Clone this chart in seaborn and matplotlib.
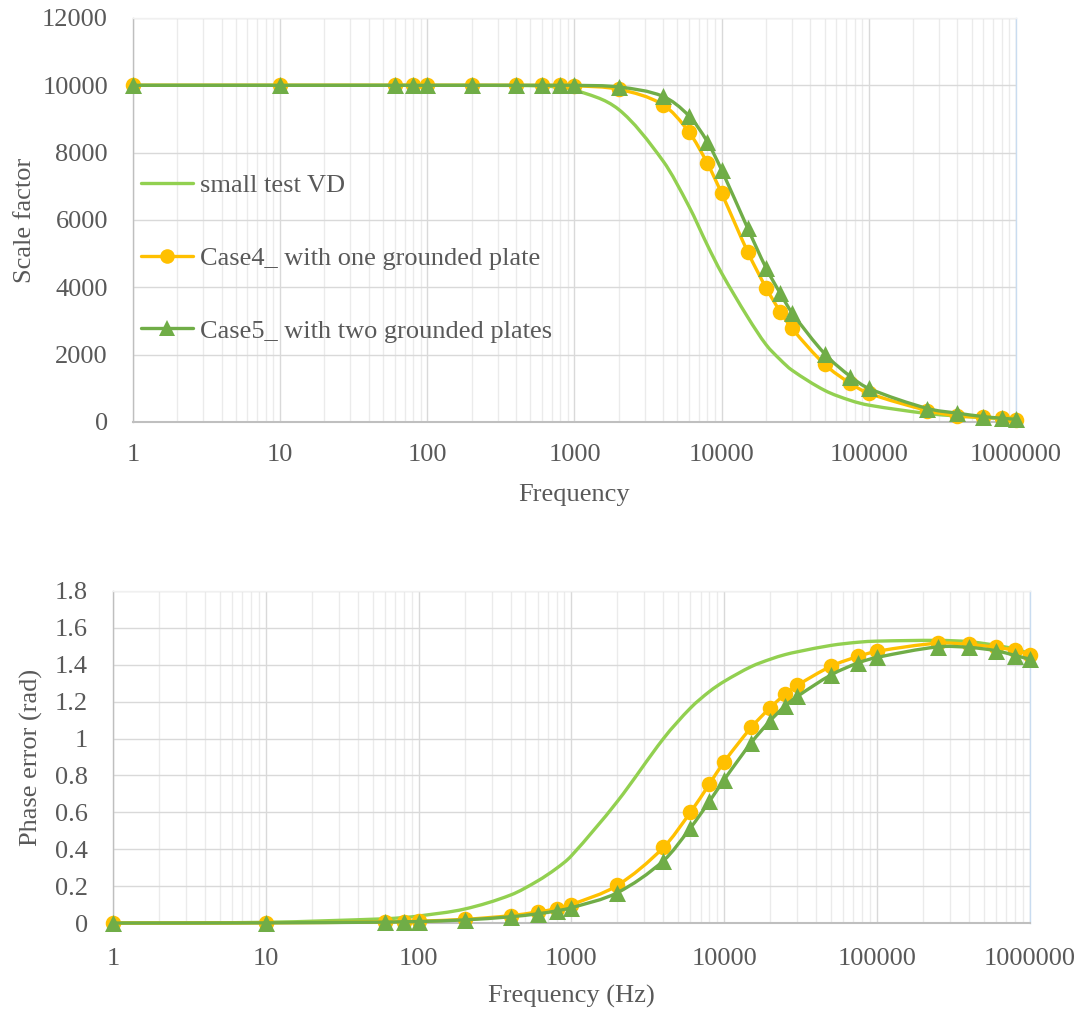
import numpy as np
import matplotlib
matplotlib.use("Agg")
import matplotlib.pyplot as plt
from matplotlib.path import Path
from matplotlib.patches import PathPatch
from matplotlib.lines import Line2D
from matplotlib.ticker import LogLocator, FixedLocator, FuncFormatter, NullFormatter
import seaborn as sns
import pandas as pd

# ---- data -----------------------------------------------------------------
freq = [1, 10, 60, 80, 100, 200, 400, 600, 800, 1000, 2000, 4000, 6000, 8000,
        10000, 15000, 20000, 25000, 30000, 50000, 75000, 100000, 250000,
        400000, 600000, 800000, 1000000]

series_names = ["small test VD", "Case4_ with one grounded plate",
                "Case5_ with two grounded plates"]

scale_small = [10000, 10000, 10000, 10000, 10000, 10000, 9995, 9980, 9940, 9870,
               9280, 7750, 6400, 5250, 4420, 3120, 2300, 1850, 1540, 940, 640,
               500, 250, 180, 130, 100, 70]
scale_case4 = [10000, 10000, 10000, 10000, 10000, 10000, 10000, 10000, 10000, 9990,
               9880, 9420, 8610, 7680, 6790, 5060, 3990, 3275, 2780, 1715, 1145,
               850, 340, 180, 140, 110, 60]
scale_case5 = [10000, 10000, 10000, 10000, 10000, 10000, 10000, 10000, 10000, 10000,
               9950, 9670, 9090, 8320, 7480, 5760, 4580, 3820, 3250, 2030, 1350,
               995, 400, 260, 160, 110, 80]

phase_small = [0.0, 0.004, 0.023, 0.030, 0.038, 0.076, 0.152, 0.228, 0.297, 0.365,
               0.66, 1.0, 1.165, 1.255, 1.31, 1.39, 1.43, 1.455, 1.47, 1.505,
               1.522, 1.528, 1.532, 1.525, 1.505, 1.485, 1.46]
phase_case4 = [0.0, 0.001, 0.006, 0.008, 0.010, 0.020, 0.040, 0.060, 0.078, 0.100,
               0.205, 0.41, 0.60, 0.754, 0.875, 1.06, 1.168, 1.24, 1.288, 1.392,
               1.445, 1.473, 1.517, 1.51, 1.494, 1.478, 1.452]
phase_case5 = [0.0, 0.001, 0.005, 0.007, 0.008, 0.017, 0.034, 0.050, 0.066, 0.083,
               0.165, 0.338, 0.515, 0.66, 0.778, 0.977, 1.097, 1.177, 1.228, 1.345,
               1.41, 1.44, 1.497, 1.494, 1.476, 1.45, 1.43]

scale_ticks = [0, 2000, 4000, 6000, 8000, 10000, 12000]
phase_ticks = [0, 0.2, 0.4, 0.6, 0.8, 1.0, 1.2, 1.4, 1.6, 1.8]
freq_ticks = [1, 10, 100, 1000, 10000, 100000, 1000000]

# ---- style ----------------------------------------------------------------
sns.set_style("white")
plt.rcParams["font.family"] = ["Liberation Serif", "DejaVu Serif"]
TEXT = "#595959"
C_SMALL, C_CASE4, C_CASE5 = "#92d050", "#ffc000", "#70ad47"
FS = 19
LW = 2.4


def smooth_path(xs, ys):
    """Smoothed cubic Bezier path through the points on a log-x axis."""
    x = np.log10(np.asarray(xs, dtype=float))
    y = np.asarray(ys, dtype=float)
    n = len(x)
    m = np.empty(n)
    m[0] = (y[1] - y[0]) / (x[1] - x[0])
    m[-1] = (y[-1] - y[-2]) / (x[-1] - x[-2])
    for i in range(1, n - 1):
        m[i] = (y[i + 1] - y[i - 1]) / (x[i + 1] - x[i - 1])
    verts = [(x[0], y[0])]
    codes = [Path.MOVETO]
    for i in range(n - 1):
        h = x[i + 1] - x[i]
        verts += [(x[i] + h / 3, y[i] + m[i] * h / 3),
                  (x[i + 1] - h / 3, y[i + 1] - m[i + 1] * h / 3),
                  (x[i + 1], y[i + 1])]
        codes += [Path.CURVE4] * 3
    verts = np.array(verts)
    verts[:, 0] = 10 ** verts[:, 0]
    return Path(verts, codes)


def draw_curve(ax, xs, ys, color, z):
    ax.add_patch(PathPatch(smooth_path(xs, ys), facecolor="none", edgecolor=color,
                           lw=LW, zorder=z, capstyle="round", joinstyle="round",
                           clip_on=False))


def style_axes(ax, yticks, ymax, yfmt, xpad):
    ax.set_xscale("log")
    ax.set_xlim(1, 1e6)
    ax.set_ylim(0, ymax)
    ax.xaxis.set_major_locator(FixedLocator(freq_ticks))
    ax.xaxis.set_minor_locator(LogLocator(base=10, subs=np.arange(2, 10)))
    ax.xaxis.set_major_formatter(FuncFormatter(lambda v, p: f"{int(round(v))}"))
    ax.xaxis.set_minor_formatter(NullFormatter())
    ax.yaxis.set_major_locator(FixedLocator(yticks))
    ax.yaxis.set_major_formatter(FuncFormatter(yfmt))
    ax.grid(which="major", color="#d9d9d9", lw=1.0, zorder=0)
    ax.grid(which="minor", axis="x", color="#ebebeb", lw=1.0, zorder=0)
    ax.set_axisbelow(True)
    ax.tick_params(axis="x", which="major", direction="in", length=5, width=1.0,
                   color="#bfbfbf", labelsize=FS, labelcolor=TEXT, pad=xpad)
    ax.tick_params(axis="x", which="minor", length=0)
    ax.tick_params(axis="y", which="both", length=0, labelsize=FS,
                   labelcolor=TEXT, pad=18)
    for side, col, lw in [("left", "#bfbfbf", 1.0), ("bottom", "#bfbfbf", 1.5),
                          ("top", "#f0f0f0", 1.0), ("right", "#c9dcf0", 1.0)]:
        ax.spines[side].set_visible(True)
        ax.spines[side].set_color(col)
        ax.spines[side].set_linewidth(lw)


def plot_panel(ax, small, case4, case5):
    draw_curve(ax, freq, small, C_SMALL, 2)
    draw_curve(ax, freq, case4, C_CASE4, 3)
    d4 = pd.DataFrame({"f": freq, "v": case4})
    sns.scatterplot(data=d4, x="f", y="v", ax=ax, marker="o", s=125, color=C_CASE4,
                    edgecolor=C_CASE4, linewidth=0, zorder=4, legend=False,
                    clip_on=False)
    draw_curve(ax, freq, case5, C_CASE5, 5)
    d5 = pd.DataFrame({"f": freq, "v": case5})
    sns.scatterplot(data=d5, x="f", y="v", ax=ax, marker="^", s=150, color=C_CASE5,
                    edgecolor=C_CASE5, linewidth=0, zorder=6, legend=False,
                    clip_on=False)
    ax.set_xlabel("")
    ax.set_ylabel("")


fig = plt.figure(figsize=(10.81, 10.10), dpi=100)
ax1 = fig.add_axes([0.1230, 0.5822, 0.8169, 0.4000])
ax2 = fig.add_axes([0.1045, 0.0861, 0.8483, 0.3288])

# ---- scale factor ---------------------------------------------------------
plot_panel(ax1, scale_small, scale_case4, scale_case5)
style_axes(ax1, scale_ticks, 12000, lambda v, p: f"{int(v)}", 16)
ax1.set_xlabel("Frequency", fontsize=FS, color=TEXT)
ax1.set_ylabel("Scale factor", fontsize=FS, color=TEXT)
ax1.xaxis.set_label_coords(0.5, -0.153)
ax1.yaxis.set_label_coords(-0.110, 0.5)

handles = [
    Line2D([], [], color=C_SMALL, lw=LW),
    Line2D([], [], color=C_CASE4, lw=LW, marker="o", markersize=10.5,
           markeredgewidth=0),
    Line2D([], [], color=C_CASE5, lw=LW, marker="^", markersize=11.5,
           markeredgewidth=0),
]
leg = ax1.legend(handles, series_names, loc="upper left",
                 bbox_to_anchor=(0.0087, 0.615), frameon=False, fontsize=FS,
                 labelspacing=1.87, handlelength=2.0, handletextpad=0.25,
                 borderpad=0, borderaxespad=0)
for t in leg.get_texts():
    t.set_color(TEXT)

# ---- phase error ----------------------------------------------------------
plot_panel(ax2, phase_small, phase_case4, phase_case5)
style_axes(ax2, phase_ticks, 1.8, lambda v, p: f"{v:g}", 18)
ax2.set_xlabel("Frequency (Hz)", fontsize=FS, color=TEXT)
ax2.set_ylabel("Phase error (rad)", fontsize=FS, color=TEXT)
ax2.xaxis.set_label_coords(0.5, -0.185)
ax2.yaxis.set_label_coords(-0.076, 0.5)

fig.savefig("out.png", dpi=100, facecolor="white")
